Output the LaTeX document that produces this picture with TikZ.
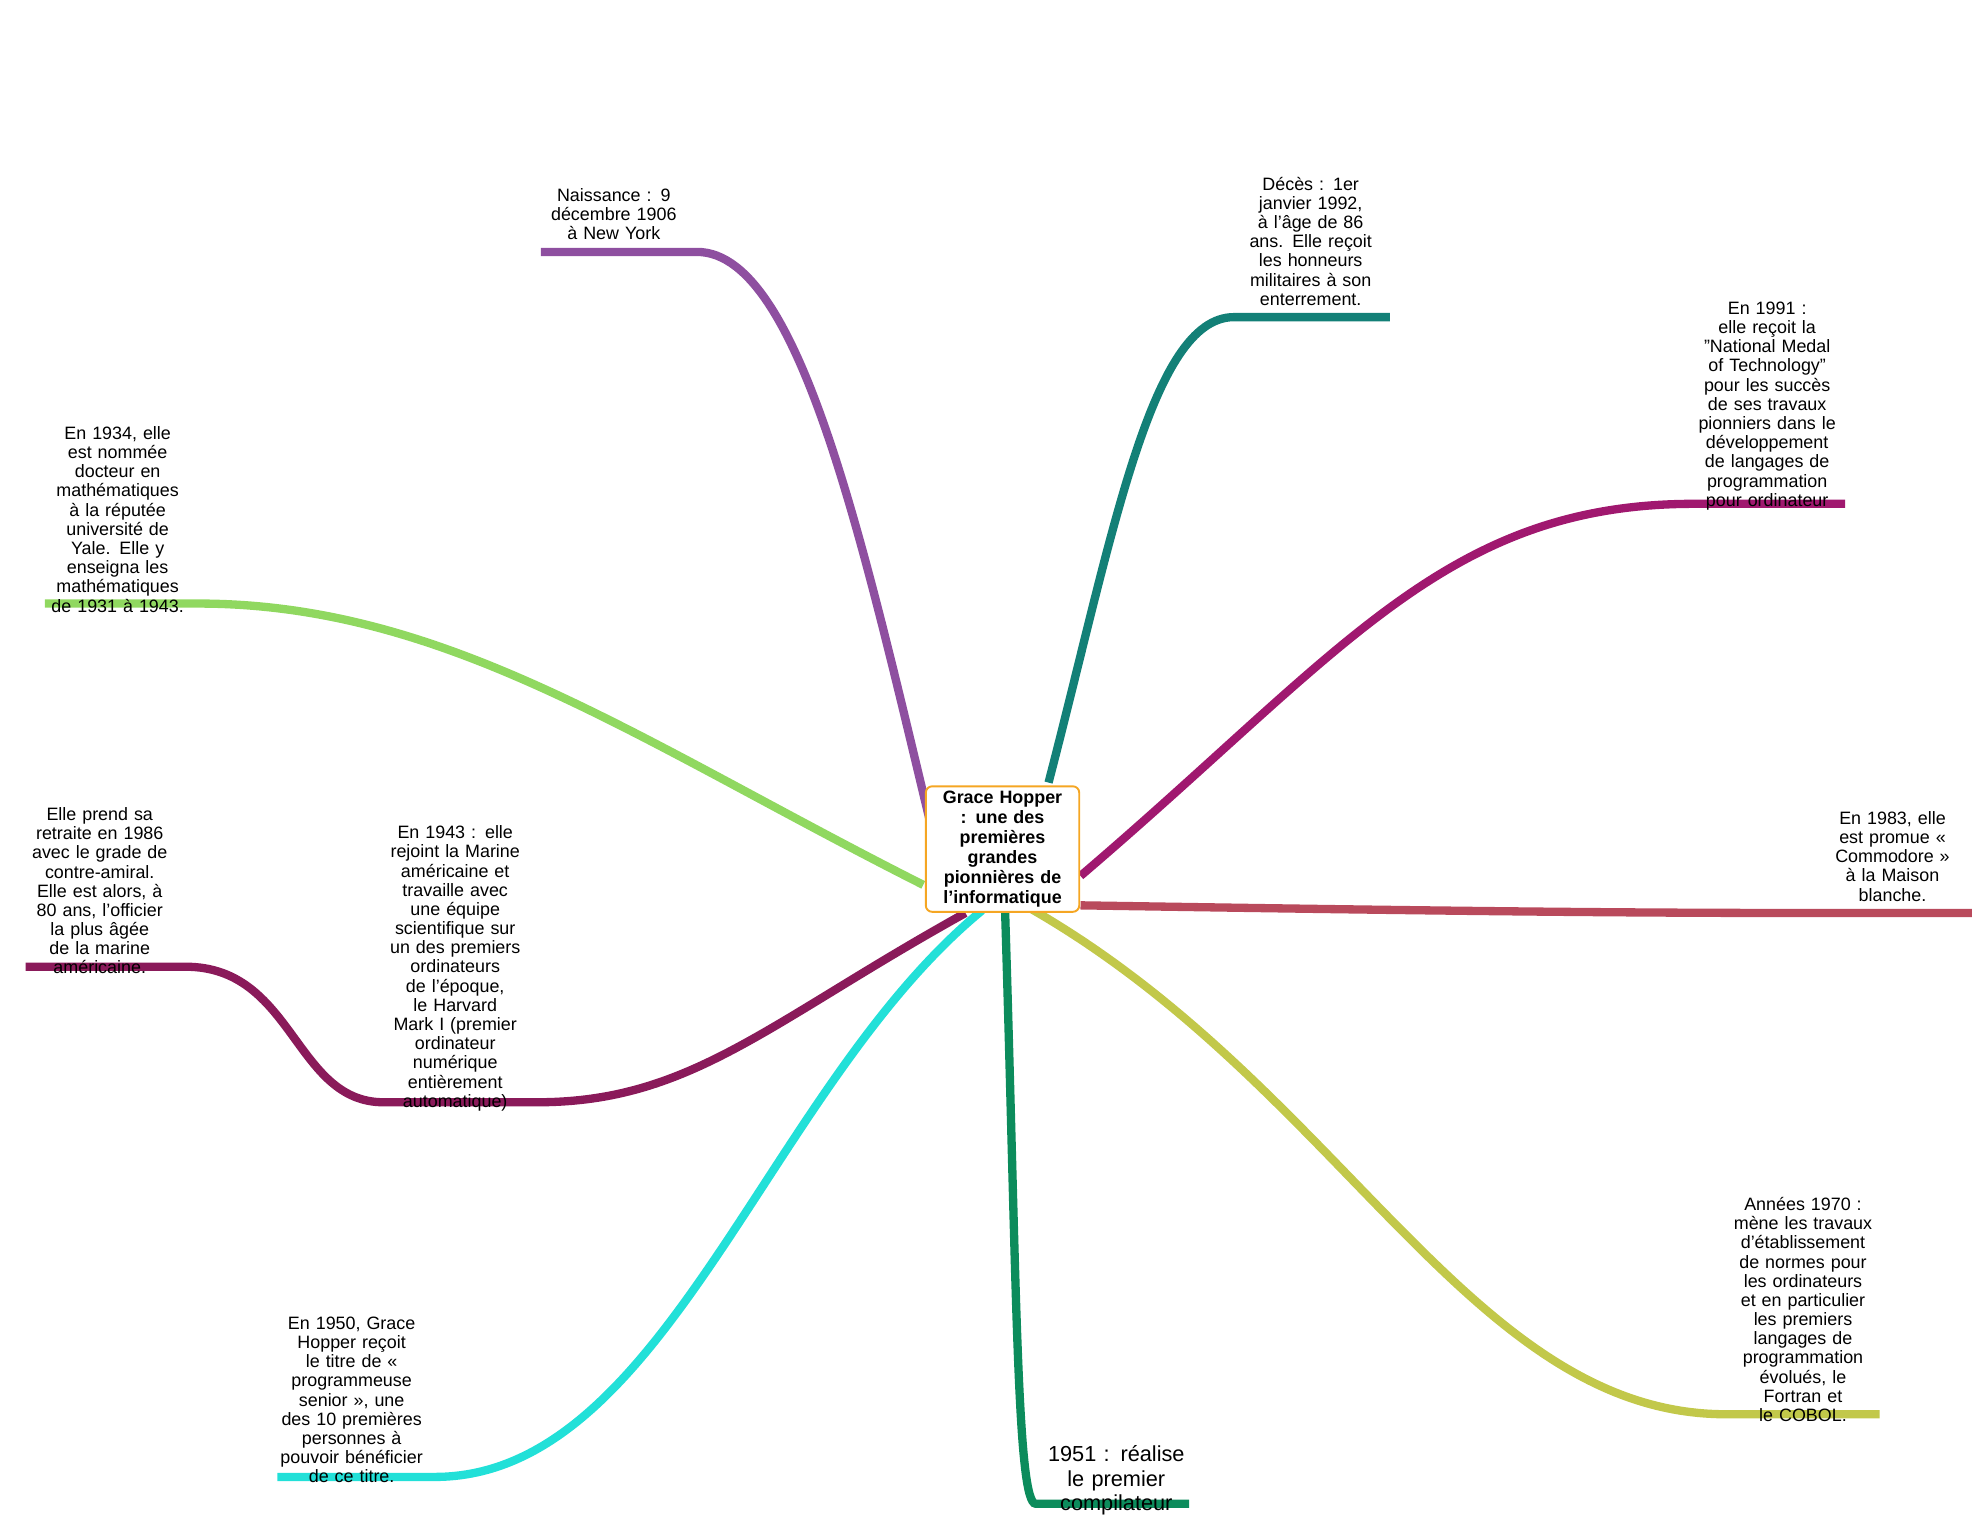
\documentclass[tikz,border=0pt]{standalone}
\usepackage{fontspec}
\setmainfont[WordSpace=1.7]{Liberation Sans}
\hyphenpenalty=10000 \exhyphenpenalty=10000
\begin{document}
\begin{tikzpicture}[x=1pt,y=-1pt,
  txt/.style={align=center,text width=112pt,font=\fontsize{14}{15}\selectfont,inner sep=0pt},
  br/.style={line width=6.5pt,line cap=butt}]
\useasboundingbox (0,0) rectangle (1550,1186);
\definecolor{cPur}{HTML}{8E4FA0}\definecolor{cTeal}{HTML}{138077}
\definecolor{cMag}{HTML}{A0186F}\definecolor{cRed}{HTML}{B94A5C}
\definecolor{cYel}{HTML}{C2C84A}\definecolor{cGrn}{HTML}{0C8C5C}
\definecolor{cCyn}{HTML}{22E0D8}\definecolor{cDmg}{HTML}{8A1A5A}
\definecolor{cLgr}{HTML}{90D860}\definecolor{cOr}{HTML}{F5A623}
% connectors
\coordinate (n0) at (545,197); \coordinate (n1) at (423,197);
\coordinate (d0) at (965,248); \coordinate (d1) at (1087,248);
\coordinate (m0) at (1325,394); \coordinate (m1) at (1443,394);
\coordinate (r0) at (1420,714); \coordinate (r1) at (1542,714);
\coordinate (y0) at (1350,1106); \coordinate (y1) at (1470,1106);
\coordinate (g0) at (810,1176); \coordinate (g1) at (930,1176);
\coordinate (c0) at (340,1155); \coordinate (c1) at (217,1155);
\coordinate (h0) at (420,862); \coordinate (h1) at (300,862); \coordinate (h2) at (145,756); \coordinate (h3) at (20,756);
\coordinate (l0) at (155,472); \coordinate (l1) at (35,472);
\draw[br,cPur] (740,695) .. controls (680,450) and (630,197) .. (n0) -- (n1);
\draw[br,cTeal] (820,612) .. controls (870,420) and (900,248) .. (d0) -- (d1);
\draw[br,cMag] (845,685) .. controls (1050,510) and (1130,394) .. (m0) -- (m1);
\draw[br,cRed] (845,708) .. controls (1100,712) and (1250,714) .. (r0) -- (r1);
\draw[br,cYel] (805,710) .. controls (1050,850) and (1150,1106) .. (y0) -- (y1);
\draw[br,cGrn] (786,712) .. controls (795,1000) and (795,1176) .. (g0) -- (g1);
\draw[br,cCyn] (768,712) .. controls (600,850) and (520,1155) .. (c0) -- (c1);
\draw[br,cDmg] (755,714) .. controls (600,800) and (540,862) .. (h0) -- (h1) .. controls (230,862) and (230,756) .. (h2) -- (h3);
\draw[br,cLgr] (722,692) .. controls (500,580) and (350,472) .. (l0) -- (l1);
% center
\node[draw=cOr,line width=1.5pt,rounded corners=5pt,fill=white,align=center,text width=112pt,font=\bfseries\fontsize{14}{15.5}\selectfont,inner sep=4pt] (c) at (784,664) {Grace Hopper : une des premières grandes pionnières de l'informatique};
% texts
\node[txt,anchor=south] (tn) at (480,188) {Naissance : 9 décembre 1906 à New York};
\node[txt,anchor=south] (td) at (1025,239) {Décès : 1er janvier 1992, à l'âge de 86 ans. Elle reçoit les honneurs militaires à son enterrement.};
\node[txt,anchor=south] (tm) at (1382,399) {En 1991 : elle reçoit la "National Medal of Technology" pour les succès de ses travaux pionniers dans le développement de langages de programmation pour ordinateur};
\node[txt,anchor=south] (tr) at (1480,705) {En 1983, elle est promue « Commodore » à la Maison blanche.};
\node[txt,anchor=south] (ty) at (1410,1112) {Années 1970 : mène les travaux d'établissement de normes pour les ordinateurs et en particulier les premiers langages de programmation évolués, le Fortran et le COBOL.};
\node[txt,anchor=south,font=\fontsize{17}{19}\selectfont] (tg) at (873,1185) {1951 : réalise le premier compilateur};
\node[txt,anchor=south] (tc) at (275,1160) {En 1950, Grace Hopper reçoit le titre de « programmeuse senior », une des 10 premières personnes à pouvoir bénéficier de ce titre.};
\node[txt,anchor=south] (th) at (356,869) {En 1943 : elle rejoint la Marine américaine et travaille avec une équipe scientifique sur un des premiers ordinateurs de l'époque, le Harvard Mark I (premier ordinateur numérique entièrement automatique)};
\node[txt,anchor=south] (tt) at (78,762) {Elle prend sa retraite en 1986 avec le grade de contre-amiral. Elle est alors, à 80 ans, l'officier la plus âgée de la marine américaine.};
\node[txt,anchor=south] (tl) at (92,479) {En 1934, elle est nommée docteur en mathématiques à la réputée université de Yale. Elle y enseigna les mathématiques de 1931 à 1943.};
\end{tikzpicture}
\end{document}
